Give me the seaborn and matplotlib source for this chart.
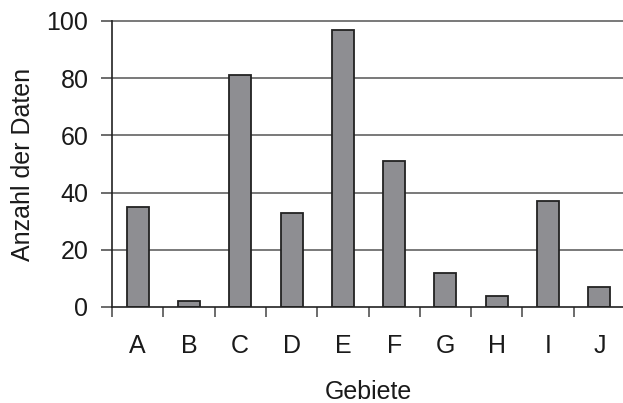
import matplotlib
matplotlib.use("Agg")
import matplotlib.pyplot as plt
import seaborn as sns
import pandas as pd
import numpy as np

categories = ["A", "B", "C", "D", "E", "F", "G", "H", "I", "J"]
values = [35, 2, 81, 33, 97, 51, 12, 4, 37, 7]
yticks = [0, 20, 40, 60, 80, 100]

sns.set_style("white")
plt.rcParams['font.family'] = ['Liberation Sans', 'DejaVu Sans']

df = pd.DataFrame({"Gebiete": categories, "Anzahl": values})

fig = plt.figure(figsize=(6.23, 4.03), dpi=100)
ax = fig.add_axes([112 / 623, (403 - 307) / 403, (625 - 112) / 623, (307 - 21) / 403])

sns.barplot(data=df, x="Gebiete", y="Anzahl", color="#8e8e92", width=0.43,
            edgecolor="#222222", linewidth=1.3, saturation=1, ax=ax, zorder=3)

ax.set_ylim(0, 100)
ax.set_xlim(-0.5, len(categories) - 0.5)
ax.set_yticks(yticks)
ax.set_yticklabels([str(t) for t in yticks])
for t in yticks[1:]:
    ax.axhline(t, color="#555555", linewidth=1.1, zorder=1, clip_on=False)

ax.tick_params(axis="y", length=8, width=1.1, color="#444444", labelsize=18, pad=9,
               direction="out", left=True, labelcolor="#1a1a1a")
ax.set_xticks(range(len(categories)))
ax.set_xticklabels(categories)
ax.tick_params(axis="x", which="major", length=0, labelsize=18, pad=19.5, labelcolor="#1a1a1a")
ax.set_xticks(np.arange(-0.5, len(categories) - 0.4, 1.0), minor=True)
ax.tick_params(axis="x", which="minor", length=7, width=1.1, color="#444444",
               direction="out", bottom=True)

for s in ["top", "right"]:
    ax.spines[s].set_visible(False)
for s in ["left", "bottom"]:
    ax.spines[s].set_visible(True)
    ax.spines[s].set_color("#222222")
    ax.spines[s].set_linewidth(1.2)
    ax.spines[s].set_zorder(4)

ax.set_xlabel("Gebiete", fontsize=18, labelpad=15.5, color="#1a1a1a")
ax.set_ylabel("Anzahl der Daten", fontsize=18, labelpad=8.5, color="#1a1a1a")

fig.savefig("out.png", dpi=100)
